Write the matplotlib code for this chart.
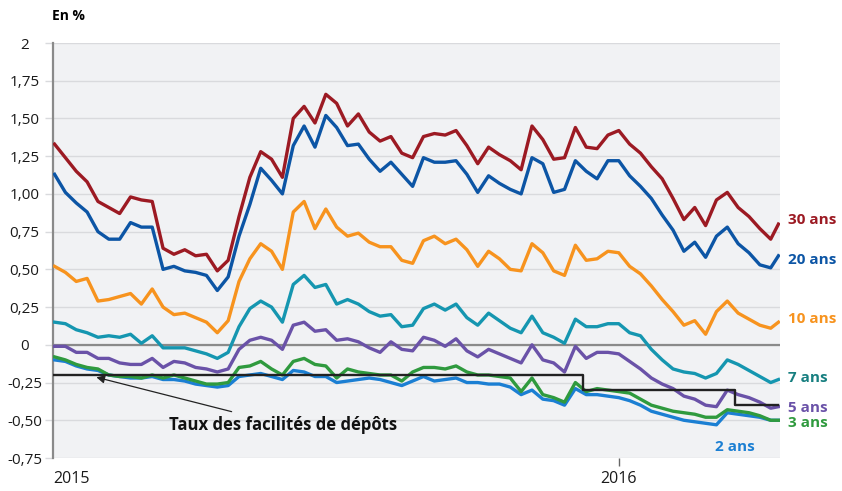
"""
Taux souverains allemands 2015-2016, par maturité
"""
import numpy as np
import pandas as pd
import matplotlib
matplotlib.use('Agg')
import matplotlib.pyplot as plt

plt.rcParams['font.family'] = ['Open Sans', 'DejaVu Sans']

# -----------------------------------
# Données hebdomadaires (en %)
dates = list(pd.date_range('2015-01-02', periods=67, freq='7D')) + [pd.Timestamp('2016-04-13')]

y30 = [1.33, 1.24, 1.15, 1.08, 0.95, 0.91, 0.87, 0.98, 0.96, 0.95,
       0.64, 0.60, 0.63, 0.59, 0.60, 0.49, 0.56, 0.85, 1.11, 1.28,
       1.23, 1.11, 1.50, 1.58, 1.47, 1.66, 1.60, 1.45, 1.53, 1.41,
       1.35, 1.38, 1.27, 1.24, 1.38, 1.40, 1.39, 1.42, 1.32, 1.20,
       1.31, 1.26, 1.22, 1.16, 1.45, 1.36, 1.23, 1.24, 1.44, 1.31,
       1.30, 1.39, 1.42, 1.33, 1.27, 1.18, 1.10, 0.97, 0.83, 0.91,
       0.79, 0.96, 1.01, 0.91, 0.85, 0.77, 0.70, 0.80]
y20 = [1.13, 1.01, 0.94, 0.88, 0.75, 0.70, 0.70, 0.81, 0.78, 0.78,
       0.50, 0.52, 0.49, 0.48, 0.46, 0.36, 0.45, 0.72, 0.93, 1.17,
       1.09, 1.00, 1.32, 1.45, 1.31, 1.52, 1.44, 1.32, 1.33, 1.23,
       1.15, 1.21, 1.13, 1.05, 1.24, 1.21, 1.21, 1.22, 1.13, 1.01,
       1.12, 1.07, 1.03, 1.00, 1.24, 1.20, 1.01, 1.03, 1.22, 1.15,
       1.10, 1.22, 1.22, 1.12, 1.05, 0.97, 0.86, 0.76, 0.62, 0.68,
       0.58, 0.72, 0.78, 0.67, 0.61, 0.53, 0.51, 0.59]
y10 = [0.52, 0.48, 0.42, 0.44, 0.29, 0.30, 0.32, 0.34, 0.27, 0.37,
       0.25, 0.20, 0.21, 0.18, 0.15, 0.08, 0.16, 0.42, 0.57, 0.67,
       0.62, 0.50, 0.88, 0.95, 0.77, 0.90, 0.78, 0.72, 0.74, 0.68,
       0.65, 0.65, 0.56, 0.54, 0.69, 0.72, 0.67, 0.70, 0.63, 0.52,
       0.62, 0.57, 0.50, 0.49, 0.67, 0.61, 0.49, 0.46, 0.66, 0.56,
       0.57, 0.62, 0.61, 0.52, 0.47, 0.39, 0.30, 0.22, 0.13, 0.16,
       0.07, 0.22, 0.29, 0.21, 0.17, 0.13, 0.11, 0.15]
y7 = [0.15, 0.14, 0.10, 0.08, 0.05, 0.06, 0.05, 0.07, 0.01, 0.06,
      -0.02, -0.02, -0.02, -0.04, -0.06, -0.09, -0.05, 0.12, 0.24, 0.29,
      0.25, 0.15, 0.40, 0.46, 0.38, 0.40, 0.27, 0.30, 0.27, 0.22,
      0.19, 0.20, 0.12, 0.13, 0.24, 0.27, 0.23, 0.27, 0.18, 0.13,
      0.21, 0.16, 0.11, 0.08, 0.19, 0.08, 0.05, 0.01, 0.17, 0.12,
      0.12, 0.14, 0.14, 0.08, 0.06, -0.03, -0.10, -0.16, -0.18, -0.19,
      -0.22, -0.19, -0.10, -0.13, -0.17, -0.21, -0.25, -0.23]
y5 = [-0.01, -0.01, -0.05, -0.05, -0.09, -0.09, -0.12, -0.13, -0.13, -0.09,
      -0.15, -0.11, -0.12, -0.15, -0.16, -0.18, -0.16, -0.03, 0.03, 0.05,
      0.03, -0.03, 0.13, 0.15, 0.09, 0.10, 0.03, 0.04, 0.02, -0.02,
      -0.05, 0.02, -0.03, -0.04, 0.05, 0.03, -0.01, 0.04, -0.04, -0.08,
      -0.03, -0.06, -0.09, -0.12, 0.00, -0.10, -0.12, -0.18, -0.01, -0.09,
      -0.05, -0.05, -0.06, -0.11, -0.16, -0.22, -0.26, -0.29, -0.34, -0.36,
      -0.40, -0.41, -0.30, -0.33, -0.35, -0.38, -0.42, -0.41]
y3 = [-0.08, -0.10, -0.13, -0.15, -0.16, -0.20, -0.21, -0.21, -0.22, -0.20,
      -0.22, -0.20, -0.22, -0.24, -0.26, -0.26, -0.25, -0.15, -0.14, -0.11,
      -0.16, -0.20, -0.11, -0.09, -0.13, -0.14, -0.22, -0.16, -0.18, -0.19,
      -0.20, -0.20, -0.24, -0.18, -0.15, -0.15, -0.16, -0.14, -0.18, -0.20,
      -0.20, -0.21, -0.22, -0.31, -0.22, -0.33, -0.35, -0.38, -0.25, -0.31,
      -0.29, -0.30, -0.31, -0.32, -0.36, -0.40, -0.42, -0.44, -0.45, -0.46,
      -0.48, -0.48, -0.43, -0.44, -0.45, -0.47, -0.50, -0.50]
y2 = [-0.10, -0.11, -0.14, -0.16, -0.17, -0.20, -0.21, -0.22, -0.22, -0.21,
      -0.23, -0.23, -0.24, -0.26, -0.27, -0.28, -0.27, -0.21, -0.20, -0.19,
      -0.21, -0.23, -0.17, -0.18, -0.21, -0.21, -0.25, -0.24, -0.23, -0.22,
      -0.23, -0.25, -0.27, -0.24, -0.21, -0.24, -0.23, -0.22, -0.25, -0.25,
      -0.26, -0.26, -0.28, -0.33, -0.30, -0.36, -0.37, -0.40, -0.29, -0.33,
      -0.33, -0.34, -0.35, -0.37, -0.40, -0.44, -0.46, -0.48, -0.50, -0.51,
      -0.52, -0.53, -0.45, -0.46, -0.47, -0.48, -0.50, -0.50]

# Taux de la facilité de dépôt BCE (paliers)
dep_dates = ['2015-01-01', '2015-12-09', '2015-12-09', '2016-03-16', '2016-03-16', '2016-04-13']
dep_rate = [-0.20, -0.20, -0.30, -0.30, -0.40, -0.40]

SERIES = [('2 ans', y2, '#1b7fd3'), ('3 ans', y3, '#2f9a3e'), ('5 ans', y5, '#6a52a8'),
          ('7 ans', y7, '#1596b0'), ('10 ans', y10, '#f7931e'), ('20 ans', y20, '#0c55a5'),
          ('30 ans', y30, '#9c1a23')]
LABEL_POS = {'30 ans': 0.83, '20 ans': 0.56, '10 ans': 0.17, '7 ans': -0.22,
             '5 ans': -0.42, '3 ans': -0.52}
LABEL_COL = {'7 ans': '#177f80'}
# -----------------------------------

fig = plt.figure(figsize=(8.42, 4.91), dpi=100)
ax = fig.add_axes([53 / 842, 1 - 458 / 491, 727 / 842, 415 / 491])
ax.set_facecolor('#f1f2f4')

for name, vals, col in SERIES:
    ax.plot(pd.to_datetime(dates), vals, color=col, lw=2.4, solid_joinstyle='round', zorder=3)
ax.plot(pd.to_datetime(dep_dates), dep_rate, color='#222222', lw=1.7, zorder=4)
ax.axhline(0, color='#8a8a8a', lw=1.6, zorder=2)

ax.set_xlim(pd.Timestamp('2015-01-01'), pd.Timestamp('2016-04-14'))
ax.set_ylim(-0.75, 2.0)
yt = [-0.75, -0.5, -0.25, 0, 0.25, 0.5, 0.75, 1.0, 1.25, 1.5, 1.75, 2.0]
ax.set_yticks(yt)
ax.set_yticklabels(['0' if v == 0 else ('2' if v == 2 else '{:.2f}'.format(v).replace('.', ','))
                    for v in yt], fontsize=11, color='#1a1a1a')
for lab in ax.get_yticklabels():
    lab.set_horizontalalignment('center')
ax.tick_params(axis='y', length=5.5, width=1, color='#d9dadd', pad=15)
ax.grid(axis='y', color='#d9dadd', lw=1, zorder=1)
for s in ['top', 'right', 'bottom']:
    ax.spines[s].set_visible(False)
ax.spines['left'].set_color('#8a8a8a')
ax.spines['left'].set_linewidth(1.6)

ax.set_xticks([pd.Timestamp('2015-01-01'), pd.Timestamp('2016-01-01')])
ax.set_xticklabels(['2015', '2016'], fontsize=11.5, color='#1a1a1a')
ax.get_xticklabels()[0].set_horizontalalignment('left')
ax.xaxis.get_major_ticks()[0].tick1line.set_visible(False)
ax.tick_params(axis='x', length=5.5, width=1, color='#666666', pad=4)

# Etiquettes à droite
end = pd.Timestamp('2016-04-14')
for name, vals, col in SERIES:
    if name in LABEL_POS:
        ax.text(end + pd.Timedelta(days=5), LABEL_POS[name], name, color=LABEL_COL.get(name, col),
                fontsize=11, fontweight='bold', va='center', ha='left', clip_on=False)
ax.text(pd.Timestamp('2016-03-03'), -0.68, '2 ans', color='#1b7fd3', fontsize=11,
        fontweight='bold', va='center', ha='left')

ax.annotate('Taux des facilités de dépôts', xy=(pd.Timestamp('2015-01-29'), -0.215),
            xytext=(pd.Timestamp('2015-03-17'), -0.53), fontsize=12, fontweight='bold',
            va='center', ha='left', color='#111111',
            arrowprops=dict(arrowstyle='-|>', color='#222222', lw=0.9, mutation_scale=12,
                            shrinkA=4, shrinkB=0))

fig.text(52 / 842, 1 - 16 / 491, 'En %', fontsize=10, fontweight='bold', va='center', ha='left')

fig.savefig('out.png', dpi=100)
